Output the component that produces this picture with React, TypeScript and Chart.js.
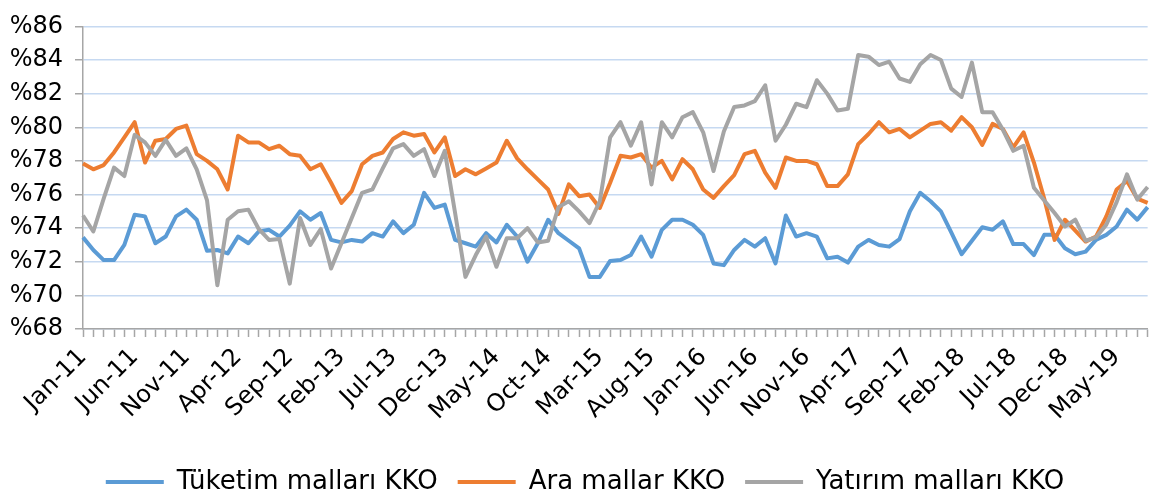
import React, { useEffect, useRef } from 'react';
import { Chart, registerables } from 'chart.js';

Chart.register(...registerables);

const categories = [
  'Jan-11','Feb-11','Mar-11','Apr-11','May-11','Jun-11','Jul-11','Aug-11','Sep-11','Oct-11','Nov-11','Dec-11',
  'Jan-12','Feb-12','Mar-12','Apr-12','May-12','Jun-12','Jul-12','Aug-12','Sep-12','Oct-12','Nov-12','Dec-12',
  'Jan-13','Feb-13','Mar-13','Apr-13','May-13','Jun-13','Jul-13','Aug-13','Sep-13','Oct-13','Nov-13','Dec-13',
  'Jan-14','Feb-14','Mar-14','Apr-14','May-14','Jun-14','Jul-14','Aug-14','Sep-14','Oct-14','Nov-14','Dec-14',
  'Jan-15','Feb-15','Mar-15','Apr-15','May-15','Jun-15','Jul-15','Aug-15','Sep-15','Oct-15','Nov-15','Dec-15',
  'Jan-16','Feb-16','Mar-16','Apr-16','May-16','Jun-16','Jul-16','Aug-16','Sep-16','Oct-16','Nov-16','Dec-16',
  'Jan-17','Feb-17','Mar-17','Apr-17','May-17','Jun-17','Jul-17','Aug-17','Sep-17','Oct-17','Nov-17','Dec-17',
  'Jan-18','Feb-18','Mar-18','Apr-18','May-18','Jun-18','Jul-18','Aug-18','Sep-18','Oct-18','Nov-18','Dec-18',
  'Jan-19','Feb-19','Mar-19','Apr-19','May-19','Jun-19','Jul-19','Aug-19',
];

const tuketim = [
  73.45, 72.7, 72.1, 72.1, 73.0, 74.8, 74.7, 73.1, 73.5, 74.7,
  75.1, 74.5, 72.65, 72.7, 72.5, 73.5, 73.1, 73.8, 73.9, 73.5,
  74.15, 75.0, 74.5, 74.9, 73.3, 73.15, 73.3, 73.2, 73.7, 73.5,
  74.4, 73.7, 74.2, 76.1, 75.2, 75.4, 73.3, 73.1, 72.9, 73.7,
  73.15, 74.2, 73.5, 72.0, 73.1, 74.5, 73.7, 73.25, 72.8, 71.1,
  71.1, 72.05, 72.1, 72.4, 73.5, 72.3, 73.9, 74.5, 74.5, 74.2,
  73.6, 71.9, 71.8, 72.7, 73.3, 72.9, 73.4, 71.9, 74.75, 73.5,
  73.7, 73.5, 72.2, 72.3, 71.95, 72.9, 73.3, 73.0, 72.9, 73.35,
  75.0, 76.1, 75.6, 75.0, 73.75, 72.45, 73.25, 74.05, 73.9, 74.4,
  73.05, 73.05, 72.4, 73.6, 73.6, 72.8, 72.45, 72.6, 73.3, 73.6,
  74.1, 75.1, 74.5, 75.25,
];

const ara = [
  77.85, 77.5, 77.75, 78.5, 79.4, 80.3, 77.9, 79.2, 79.3, 79.9,
  80.1, 78.4, 78.0, 77.5, 76.3, 79.5, 79.1, 79.1, 78.7, 78.9,
  78.4, 78.3, 77.5, 77.8, 76.7, 75.5, 76.2, 77.8, 78.3, 78.5,
  79.3, 79.7, 79.5, 79.6, 78.5, 79.4, 77.1, 77.5, 77.2, 77.55,
  77.9, 79.2, 78.15, 77.5, 76.9, 76.3, 74.85, 76.6, 75.9, 76.0,
  75.2, 76.7, 78.3, 78.2, 78.4, 77.6, 78.0, 76.9, 78.1, 77.5,
  76.3, 75.8, 76.5, 77.15, 78.4, 78.6, 77.3, 76.4, 78.2, 78.0,
  78.0, 77.8, 76.5, 76.5, 77.2, 79.0, 79.6, 80.3, 79.7, 79.9,
  79.4, 79.8, 80.2, 80.3, 79.8, 80.6, 80.0, 78.95, 80.2, 79.9,
  78.8, 79.7, 77.9, 75.75, 73.3, 74.5, 73.85, 73.2, 73.5, 74.7,
  76.3, 76.8, 75.75, 75.5,
];

const yatirim = [
  74.75, 73.8, 75.75, 77.6, 77.1, 79.55, 79.1, 78.3, 79.25, 78.3,
  78.75, 77.5, 75.65, 70.6, 74.5, 75.0, 75.1, 73.95, 73.3, 73.35,
  70.7, 74.6, 73.0, 73.95, 71.6, 73.1, 74.6, 76.1, 76.3, 77.55,
  78.75, 79.0, 78.3, 78.7, 77.1, 78.6, 74.9, 71.1, 72.4, 73.5,
  71.7, 73.4, 73.4, 74.0, 73.15, 73.25, 75.25, 75.6, 75.0, 74.3,
  75.6, 79.4, 80.3, 78.9, 80.3, 76.6, 80.3, 79.4, 80.6, 80.9,
  79.7, 77.4, 79.75, 81.2, 81.3, 81.55, 82.5, 79.2, 80.15, 81.4,
  81.2, 82.8, 82.0, 81.0, 81.1, 84.3, 84.2, 83.7, 83.9, 82.9,
  82.7, 83.75, 84.3, 84.0, 82.3, 81.8, 83.85, 80.9, 80.9, 79.85,
  78.6, 78.9, 76.4, 75.65, 74.9, 74.1, 74.5, 73.25, 73.45, 74.2,
  75.55, 77.2, 75.7, 76.45,
];

const seriesNames = ['Tüketim malları KKO', 'Ara mallar KKO', 'Yatırım malları KKO'];
const seriesColors = ['#5B9BD5', '#ED7D31', '#A5A5A5'];
const yMin = 68;
const yMax = 86;
const yStep = 2;
const labelEvery = 5;

export default function App() {
  const ref = useRef<HTMLCanvasElement>(null);

  useEffect(() => {
    if (!ref.current) return;
    Chart.defaults.font.family = 'DejaVu Sans';
    const seriesData = [tuketim, ara, yatirim];
    const chart = new Chart(ref.current, {
      type: 'line',
      data: {
        labels: categories,
        datasets: seriesData.map((d, i) => ({
          label: seriesNames[i],
          data: d,
          borderColor: seriesColors[i],
          backgroundColor: seriesColors[i],
          borderWidth: 4,
          pointRadius: 0,
          tension: 0,
          fill: false,
          order: 2 - i,
          borderJoinStyle: 'round' as const,
        })),
      },
      options: {
        responsive: false,
        animation: false,
        layout: { padding: { left: 0, right: 4, top: 14, bottom: 0 } },
        plugins: {
          tooltip: { enabled: false },
          legend: {
            position: 'bottom',
            maxHeight: 50,
            labels: {
              boxWidth: 58,
              boxHeight: 4,
              padding: 20,
              color: '#000',
              font: { family: 'DejaVu Sans', size: 26 },
              sort: (a: any, b: any) => a.datasetIndex - b.datasetIndex,
              generateLabels: (c: any) =>
                (Chart.defaults.plugins.legend.labels.generateLabels as any)(c).map((l: any) => ({
                  ...l,
                  lineWidth: 0,
                  fillStyle: l.strokeStyle,
                })),
            },
          },
        },
        scales: {
          x: {
            offset: false,
            grid: {
              drawOnChartArea: false,
              drawTicks: true,
              tickLength: 8,
              tickColor: '#a6a6a6',
              tickWidth: 1.5,
            },
            border: { display: true, color: '#a6a6a6', width: 1.5 },
            ticks: {
              autoSkip: false,
              maxRotation: 45,
              minRotation: 45,
              padding: 6,
              color: '#000',
              font: { family: 'DejaVu Sans', size: 24 },
              callback: (_v: any, i: number) => (i % labelEvery === 0 ? categories[i] : ''),
            },
            afterFit: (s: any) => {
              s.height = 120;
            },
          },
          y: {
            min: yMin,
            max: yMax,
            ticks: {
              stepSize: yStep,
              padding: 12,
              color: '#000',
              font: { family: 'DejaVu Sans', size: 24 },
              callback: (v: any) => '%' + v,
            },
            grid: {
              color: '#c6d9f1',
              lineWidth: 1.5,
              tickColor: '#a6a6a6',
              tickLength: 8,
              tickWidth: 1.5,
            },
            border: { display: true, color: '#a6a6a6', width: 1.5 },
            afterFit: (s: any) => {
              s.width = 83;
            },
          },
        },
      },
    });
    return () => chart.destroy();
  }, []);

  return (
    <div style={{ position: 'fixed', left: 0, top: 0, width: 1174, height: 499, background: '#fff' }}>
      <canvas ref={ref} width={1174} height={499} style={{ display: 'block' }} />
    </div>
  );
}
